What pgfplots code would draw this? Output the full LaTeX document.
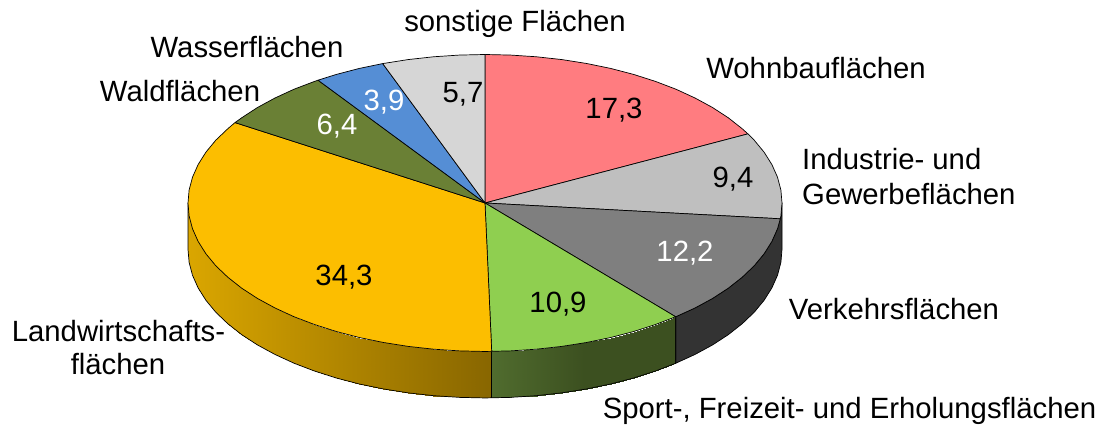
\documentclass[border=0pt]{standalone}
\usepackage{fontspec}
\setmainfont{Liberation Sans}
\usepackage{pgfplots}
\pgfplotsset{compat=1.18}
\definecolor{cPink}{HTML}{FF7C80}
\definecolor{cLight}{HTML}{BFBFBF}
\definecolor{cGrey}{HTML}{7F7F7F}
\definecolor{cGreen}{HTML}{8FCF50}
\definecolor{cOrange}{HTML}{FCBE00}
\definecolor{cOlive}{HTML}{6A8035}
\definecolor{cBlue}{HTML}{558ED5}
\definecolor{cPale}{HTML}{D6D6D6}
\definecolor{cWall}{HTML}{333333}
\tikzset{lab/.style={font=\fontsize{29.3}{35}\selectfont, inner sep=0pt, text=black}}
\begin{document}
\begin{tikzpicture}
\begin{axis}[
  hide axis, scale only axis, width=1106pt, height=427pt,
  xmin=-485, xmax=621, ymin=-224, ymax=203, clip=false,
  every axis plot/.append style={line width=0.7pt, line join=round},
]
\path (rel axis cs:0,0) rectangle (rel axis cs:1,1);
% side walls
\addplot[surf, shader=interp, mesh/rows=2, point meta=x, point meta rel=per plot, draw=none,
  colormap={oW}{rgb255=(218,166,0) rgb255=(136,102,0)}] coordinates {
(-297,0)(-295.9,-12.9)(-292.5,-25.8)(-286.9,-38.4)(-279.1,-50.8)(-269.2,-62.8)(-257.2,-74.25)(-243.3,-85.2)(-227.5,-95.5)(-210,-105)(-190.9,-113.8)(-170.4,-121.6)(-148.5,-128.6)(-125.5,-134.6)(-101.6,-139.5)(-76.9,-143.4)(-51.6,-146.2)(-25.9,-147.9)(0,-148.5)(6.7,-148.35)
(-297,-46.5)(-295.9,-59.4)(-292.5,-72.3)(-286.9,-84.9)(-279.1,-97.3)(-269.2,-109.3)(-257.2,-120.75)(-243.3,-131.7)(-227.5,-142)(-210,-151.5)(-190.9,-160.3)(-170.4,-168.1)(-148.5,-175.1)(-125.5,-181.1)(-101.6,-186)(-76.9,-189.9)(-51.6,-192.7)(-25.9,-194.4)(0,-195)(6.7,-194.85)
};
\addplot[surf, shader=interp, mesh/rows=2, point meta=x, point meta rel=per plot, draw=none,
  colormap={gW}{rgb255=(80,108,46) rgb255=(60,80,32) rgb255=(60,80,32)}] coordinates {
(6.7,-148.35)(25.9,-147.9)(51.6,-146.2)(76.9,-143.4)(101.6,-139.5)(125.5,-134.6)(148.5,-128.6)(170.4,-121.6)(190.7,-113.8)
(6.7,-194.85)(25.9,-194.4)(51.6,-192.7)(76.9,-189.9)(101.6,-186)(125.5,-181.1)(148.5,-175.1)(170.4,-168.1)(190.7,-160.3)
};
\addplot[fill=cWall, draw=black] coordinates {
(190.7,-113.8)(210,-105)(227.5,-95.5)(243.3,-85.2)(257.2,-74.25)(269.2,-62.8)(279.1,-50.8)(286.9,-38.4)(292.5,-25.8)(295.9,-12.9)(297,0)(297,-46.5)(295.9,-59.4)(292.5,-72.3)(286.9,-84.9)(279.1,-97.3)(269.2,-109.3)(257.2,-120.75)(243.3,-131.7)(227.5,-142)(210,-151.5)(190.7,-160.3)
} -- cycle;
% wall outlines
\addplot[draw=black, no marks] coordinates {
(-297,0)(-297,-46.5)(-295.9,-59.4)(-292.5,-72.3)(-286.9,-84.9)(-279.1,-97.3)(-269.2,-109.3)(-257.2,-120.75)(-243.3,-131.7)(-227.5,-142)(-210,-151.5)(-190.9,-160.3)(-170.4,-168.1)(-148.5,-175.1)(-125.5,-181.1)(-101.6,-186)(-76.9,-189.9)(-51.6,-192.7)(-25.9,-194.4)(0,-195)(6.7,-194.85)(25.9,-194.4)(51.6,-192.7)(76.9,-189.9)(101.6,-186)(125.5,-181.1)(148.5,-175.1)(170.4,-168.1)(190.7,-160.3)(190.7,-113.8)
};
\addplot[draw=black, no marks] coordinates {(6.7,-148.35)(6.7,-194.85)};
% top slices: Wohnbau 17.3
\addplot[fill=cPink, draw=black] coordinates {
(0,0)(0,148.5)(25.9,147.9)(51.6,146.2)(76.9,143.4)(101.6,139.5)(125.5,134.6)(148.5,128.6)(170.4,121.6)(190.9,113.8)(210,105)(227.5,95.5)(243.3,85.2)(257.2,74.25)(262.9,69.1)
} -- cycle;
% Industrie 9.4
\addplot[fill=cLight, draw=black] coordinates {
(0,0)(262.9,69.1)(269.2,62.8)(279.1,50.8)(286.9,38.4)(292.5,25.8)(295.9,12.9)(297,0)(295.9,-12.9)(295.3,-15.8)
} -- cycle;
% Verkehr 12.2
\addplot[fill=cGrey, draw=black] coordinates {
(0,0)(295.3,-15.8)(292.5,-25.8)(286.9,-38.4)(279.1,-50.8)(269.2,-62.8)(257.2,-74.25)(243.3,-85.2)(227.5,-95.5)(210,-105)(190.7,-113.8)
} -- cycle;
% Sport 10.9
\addplot[fill=cGreen, draw=black] coordinates {
(0,0)(190.7,-113.8)(170.4,-121.6)(148.5,-128.6)(125.5,-134.6)(101.6,-139.5)(76.9,-143.4)(51.6,-146.2)(25.9,-147.9)(6.7,-148.35)
} -- cycle;
% Landwirtschaft 34.3
\addplot[fill=cOrange, draw=black] coordinates {
(0,0)(6.7,-148.35)(0,-148.5)(-25.9,-147.9)(-51.6,-146.2)(-76.9,-143.4)(-101.6,-139.5)(-125.5,-134.6)(-148.5,-128.6)(-170.4,-121.6)(-190.9,-113.8)(-210,-105)(-227.5,-95.5)(-243.3,-85.2)(-257.2,-74.25)(-269.2,-62.8)(-279.1,-50.8)(-286.9,-38.4)(-292.5,-25.8)(-295.9,-12.9)(-297,0)(-295.9,12.9)(-292.5,25.8)(-286.9,38.4)(-279.1,50.8)(-269.2,62.8)(-257.2,74.25)(-250,80.4)
} -- cycle;
% Wald 6.4
\addplot[fill=cOlive, draw=black] coordinates {
(0,0)(-250,80.4)(-243.3,85.2)(-227.5,95.5)(-210,105)(-190.9,113.8)(-170.4,121.6)(-167,122.8)
} -- cycle;
% Wasser 3.9
\addplot[fill=cBlue, draw=black] coordinates {
(0,0)(-167,122.8)(-148.5,128.6)(-125.5,134.6)(-102.3,139.4)
} -- cycle;
% sonstige 5.7
\addplot[fill=cPale, draw=black] coordinates {
(0,0)(-102.3,139.4)(-101.6,139.5)(-76.9,143.4)(-51.6,146.2)(-25.9,147.9)(0,148.5)
} -- cycle;
% value labels
\node[lab] at (axis cs:129,93) {17,3};
\node[lab] at (axis cs:248,24) {9,4};
\node[lab,text=white] at (axis cs:200,-50) {12,2};
\node[lab] at (axis cs:73,-101) {10,9};
\node[lab] at (axis cs:-141,-74) {34,3};
\node[lab,text=white] at (axis cs:-148,77) {6,4};
\node[lab,text=white] at (axis cs:-101,101) {3,9};
\node[lab] at (axis cs:-22,109) {5,7};
% category labels
\node[lab] at (axis cs:30,179) {sonstige Flächen};
\node[lab] at (axis cs:331,135) {Wohnbauflächen};
\node[lab,anchor=west,align=left] at (axis cs:317,26) {Industrie- und\\Gewerbeflächen};
\node[lab] at (axis cs:409,-106) {Verkehrsflächen};
\node[lab] at (axis cs:364.5,-208) {Sport-, Freizeit- und Erholungsflächen};
\node[lab] at (axis cs:-366.5,-128.5) {Landwirtschafts-};
\node[lab] at (axis cs:-367,-161.5) {flächen};
\node[lab] at (axis cs:-305,112) {Waldflächen};
\node[lab] at (axis cs:-238,156) {Wasserflächen};
\end{axis}
\end{tikzpicture}
\end{document}
